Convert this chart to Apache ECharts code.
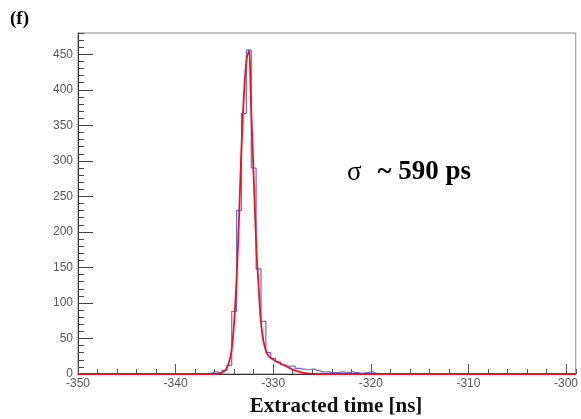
<!DOCTYPE html>
<html>
<head>
<meta charset="utf-8">
<script src="https://cdn.jsdelivr.net/npm/echarts@6/dist/echarts.min.js"></script>
<style>
html,body{margin:0;padding:0;background:#fff;}
#chart{width:581px;height:419px;}
</style>
</head>
<body>
<div id="chart"></div>
<script>
// Histogram bin centres (ns) and counts (bin width 0.5 ns)
var binCenters = [-350, -337, -336.5, -336, -335.5, -335, -334.5, -334, -333.5, -333, -332.5, -332, -331.5, -331, -330.5, -330, -329.5, -329, -328.5, -328, -327.5, -327, -326.5, -326, -325.5, -325, -324.5, -324, -323.5, -323, -322.5, -322, -321.5, -321, -320.5, -320, -319.5, -319, -299];
var binCounts = [0, 0, 1, 3, 2, 5, 12, 88, 230, 367, 456, 290, 148, 74, 30, 22, 17, 13, 11, 11, 8, 7, 6, 7, 5, 3, 3, 2, 2, 3, 2, 3, 2, 1, 2, 3, 1, 0, 0];

// Fit curve
var fitX = [-350, -336.0, -335.5, -335.0, -334.7, -334.5, -334.3, -334.1, -333.9, -333.7, -333.5, -333.3, -333.1, -332.9, -332.7, -332.45, -332.3, -332.1, -331.9, -331.7, -331.5, -331.3, -331.1, -330.9, -330.6, -330.2, -329.7, -329.0, -328.4, -327.8, -327.0, -326.3, -325.5, -299];
var fitY = [0, 0, 1, 4, 10, 18, 30, 55, 95, 150, 220, 300, 365, 415, 445, 456, 390, 315, 240, 170, 125, 80, 55, 40, 28, 22, 18, 13, 9, 5, 2, 0.5, 0, 0];

var xMajorTicks = [-350, -340, -330, -320, -310, -300];
var yMajorTicks = [0, 50, 100, 150, 200, 250, 300, 350, 400, 450];
var sigmaLabel = '~ 590 ps';

function zip(a, b) { return a.map(function (v, i) { return [v, b[i]]; }); }

var chart = echarts.init(document.getElementById('chart'), null, {renderer: 'canvas'});
var labelFont = {fontFamily: 'Liberation Sans, Arial, sans-serif', fontSize: 12, color: '#555'};

chart.setOption({
  animation: false,
  backgroundColor: '#fff',
  grid: {left: 78, right: 5, top: 33, bottom: 45, show: true, borderColor: '#888', borderWidth: 1},
  xAxis: [{
    type: 'value', min: -350, max: -299, interval: 10,
    axisLine: {show: true, lineStyle: {color: '#333', width: 1}},
    axisTick: {show: true, inside: true, length: 10, lineStyle: {color: '#555'}},
    axisLabel: Object.assign({margin: 4, showMaxLabel: false,
      formatter: function (v) { return xMajorTicks.indexOf(v) >= 0 ? String(v) : ''; }}, labelFont),
    splitLine: {show: false}
  }, {
    type: 'value', min: -350, max: -299, interval: 2, position: 'bottom', gridIndex: 0,
    axisLine: {show: false},
    axisTick: {show: true, inside: true, length: 5, lineStyle: {color: '#555'}},
    axisLabel: {show: false}, splitLine: {show: false}
  }],
  yAxis: [{
    type: 'value', min: 0, max: 480, interval: 50,
    axisLine: {show: true, lineStyle: {color: '#333', width: 1}},
    axisTick: {show: true, inside: true, length: 15, lineStyle: {color: '#444'}},
    axisLabel: Object.assign({margin: 5, showMaxLabel: false,
      formatter: function (v) { return yMajorTicks.indexOf(v) >= 0 ? String(v) : ''; }}, labelFont),
    splitLine: {show: false}
  }, {
    type: 'value', min: 0, max: 480, interval: 10, position: 'left',
    axisLine: {show: false},
    axisTick: {show: true, inside: true, length: 6, lineStyle: {color: '#444'}},
    axisLabel: {show: false}, splitLine: {show: false}
  }],
  series: [{
    type: 'line', name: 'hist', step: 'middle', xAxisIndex: 0, yAxisIndex: 0,
    data: zip(binCenters, binCounts), showSymbol: false, symbol: 'none',
    lineStyle: {color: '#6868dc', width: 1.2}, z: 2
  }, {
    type: 'line', name: 'fit', smooth: 0.25, xAxisIndex: 0, yAxisIndex: 0,
    data: zip(fitX, fitY), showSymbol: false, symbol: 'none',
    lineStyle: {color: '#f01020', width: 1.8}, z: 3
  }],
  graphic: [{
    type: 'text', left: 10, top: 10,
    style: {text: '(f)', font: 'bold 19px "Liberation Serif", "Times New Roman", serif', fill: '#000'}
  }, {
    type: 'text', left: 347, top: 159,
    style: {
      text: '{s|σ}{b|' + sigmaLabel + '}',
      rich: {
        s: {font: '27px "Liberation Serif", "Times New Roman", serif', fill: '#000', padding: [0, 16, 0, 0]},
        b: {font: 'bold 27px "Liberation Serif", "Times New Roman", serif', fill: '#000'}
      }
    }
  }, {
    type: 'text', x: 336, y: 407,
    style: {text: 'Extracted time [ns]', font: 'bold 21px "Liberation Serif", "Times New Roman", serif',
      fill: '#111', align: 'center', verticalAlign: 'middle'}
  }]
});
</script>
</body>
</html>
